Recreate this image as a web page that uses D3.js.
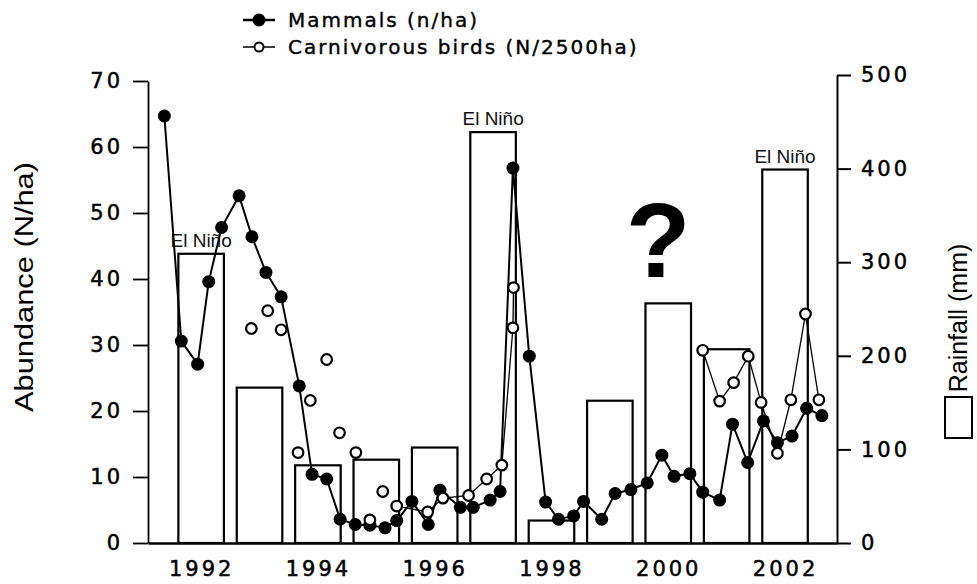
<!DOCTYPE html>
<html>
<head>
<meta charset="utf-8">
<script src="https://cdn.jsdelivr.net/npm/d3@7"></script>
<style>
  body { margin: 0; background: #fff; }
  svg { display: block; }
  .tick text { font-family: "DejaVu Sans", sans-serif; font-size: 21px; letter-spacing: 3px; fill: #000; stroke: #000; stroke-width: 0.5px; }
  .axis path, .axis line { stroke: #000; }
  .legend text { font-family: "DejaVu Sans", sans-serif; font-size: 20px; letter-spacing: 2px; fill: #000; stroke: #000; stroke-width: 0.4px; }
  .nino { font-family: "Liberation Sans", Arial, sans-serif; font-size: 19px; fill: #111; }
  .title { font-family: "Liberation Sans", Arial, sans-serif; fill: #000; }
</style>
</head>
<body>
<div class="container"></div>
<script>
// rainfall (mm) per year, bars
var years = [1992, 1993, 1994, 1995, 1996, 1997, 1998, 1999, 2000, 2001, 2002];
var rainfall = [309, 166, 83, 89, 102, 439, 24, 152, 256, 207, 399];
var elNinoYears = [1992, 1997, 2002];

// mammals (n/ha)
var mammalDates = [1991.37, 1991.66, 1991.94, 1992.13, 1992.35, 1992.65, 1992.87, 1993.11, 1993.37, 1993.68,
  1993.90, 1994.15, 1994.38, 1994.64, 1994.89, 1995.15, 1995.35, 1995.61, 1995.89, 1996.09,
  1996.44, 1996.66, 1996.95, 1997.12, 1997.34, 1997.62, 1997.90, 1998.12, 1998.38, 1998.55,
  1998.86, 1999.09, 1999.36, 1999.64, 1999.89, 2000.10, 2000.37, 2000.59, 2000.88, 2001.10,
  2001.36, 2001.63, 2001.87, 2002.12, 2002.37, 2002.63];
var mammalValues = [64.7, 30.6, 27.1, 39.6, 47.8, 52.6, 46.4, 41.0, 37.3, 23.8,
  10.4, 9.7, 3.6, 2.8, 2.7, 2.3, 3.4, 6.3, 2.8, 8.0,
  5.4, 5.4, 6.5, 7.8, 56.8, 28.3, 6.2, 3.6, 4.1, 6.3,
  3.6, 7.5, 8.1, 9.1, 13.3, 10.1, 10.5, 7.7, 6.5, 18.0,
  12.2, 18.5, 15.2, 16.2, 20.4, 19.3];

// carnivorous birds (N/2500ha)
var birdDates = [1992.86, 1993.14, 1993.37, 1993.66, 1993.87, 1994.15, 1994.37, 1994.65, 1994.89, 1995.11,
  1995.35, 1995.88, 1996.14, 1996.58, 1996.89, 1997.15, 1997.34, 1997.35,
  2000.59, 2000.88, 2001.12, 2001.37, 2001.59, 2001.87, 2002.10, 2002.35, 2002.58];
var birdValues = [32.5, 35.2, 32.3, 13.7, 21.6, 27.8, 16.7, 13.7, 3.5, 7.8,
  5.6, 4.7, 6.8, 7.2, 9.7, 11.8, 32.6, 38.7,
  29.2, 21.5, 24.3, 28.3, 21.3, 13.6, 21.7, 34.7, 21.7];
// joined stretches of the bird series (earlier counts stand alone)
var birdRuns = [[1995.3, 1997.4], [2000.5, 2003]];

var leftTicks = [0, 10, 20, 30, 40, 50, 60, 70];
var rightTicks = [0, 100, 200, 300, 400, 500];
var xTicks = [1992, 1994, 1996, 1998, 2000, 2002];

var W = 977, H = 584;
var svg = d3.select(".container").append("svg").attr("width", W).attr("height", H);

var x = d3.scaleLinear().domain([1991.09, 2002.89]).range([148, 837]);
var yL = d3.scaleLinear().domain([0, 70]).range([543, 81]);
var yR = d3.scaleLinear().domain([0, 500]).range([543, 75]);

// bars
svg.append("g").selectAll("rect")
  .data(years)
  .enter()
  .append("rect")
  .attr("x", (d) => x(d - 0.39))
  .attr("y", (d, i) => yR(rainfall[i]))
  .attr("width", (d) => x(d + 0.39) - x(d - 0.39))
  .attr("height", (d, i) => yR(0) - yR(rainfall[i]))
  .attr("fill", "#fff")
  .attr("stroke", "#000")
  .attr("stroke-width", 2.2);

svg.append("g").selectAll("text")
  .data(elNinoYears)
  .enter()
  .append("text")
  .attr("class", "nino")
  .attr("x", (d) => x(d))
  .attr("y", (d) => yR(rainfall[years.indexOf(d)]) - 7)
  .attr("text-anchor", "middle")
  .text("El Niño");

svg.append("text")
  .attr("class", "title")
  .attr("x", 658)
  .attr("y", 277)
  .attr("text-anchor", "middle")
  .style("font-size", "106px")
  .style("font-weight", "bold")
  .text("?");

// axes
svg.append("g")
  .attr("class", "axis")
  .attr("transform", "translate(148,0)")
  .call(d3.axisLeft(yL).tickValues(leftTicks).tickSize(15).tickSizeOuter(0).tickPadding(10))
  .call((g) => g.selectAll("line, path").attr("stroke-width", 1.8));

svg.append("g")
  .attr("class", "axis")
  .attr("transform", "translate(837,0)")
  .call(d3.axisRight(yR).tickValues(rightTicks).tickSize(14).tickSizeOuter(0).tickPadding(10))
  .call((g) => g.selectAll("line, path").attr("stroke-width", 2));

svg.append("g")
  .attr("class", "axis")
  .attr("transform", "translate(0,543)")
  .call(d3.axisBottom(x).tickValues(xTicks).tickSize(0).tickPadding(18).tickFormat(d3.format("d")))
  .call((g) => g.select("path").attr("stroke-width", 2.6));

// lines
var mammalPts = mammalDates.map((d, i) => [d, mammalValues[i]]);
var birdPts = birdDates.map((d, i) => [d, birdValues[i]]);
var line = d3.line().x((d) => x(d[0])).y((d) => yL(d[1]));

svg.append("g").selectAll("path")
  .data(birdRuns.map((r) => birdPts.filter((d) => d[0] >= r[0] && d[0] < r[1])))
  .enter()
  .append("path")
  .attr("d", line)
  .attr("fill", "none")
  .attr("stroke", "#000")
  .attr("stroke-width", 1.3);

svg.append("path")
  .datum(mammalPts)
  .attr("d", line)
  .attr("fill", "none")
  .attr("stroke", "#000")
  .attr("stroke-width", 2);

svg.append("g").selectAll("circle")
  .data(mammalPts)
  .enter()
  .append("circle")
  .attr("cx", (d) => x(d[0]))
  .attr("cy", (d) => yL(d[1]))
  .attr("r", 6.5)
  .attr("fill", "#000");

svg.append("g").selectAll("circle")
  .data(birdPts)
  .enter()
  .append("circle")
  .attr("cx", (d) => x(d[0]))
  .attr("cy", (d) => yL(d[1]))
  .attr("r", 5.3)
  .attr("fill", "#fff")
  .attr("stroke", "#000")
  .attr("stroke-width", 2.2);

// axis titles
svg.append("text")
  .attr("class", "title")
  .attr("transform", "translate(33,287) rotate(-90)")
  .attr("text-anchor", "middle")
  .attr("textLength", 250)
  .attr("lengthAdjust", "spacingAndGlyphs")
  .style("font-size", "25px")
  .text("Abundance (N/ha)");

svg.append("text")
  .attr("class", "title")
  .attr("transform", "translate(967,318) rotate(-90)")
  .attr("text-anchor", "middle")
  .style("font-size", "25px")
  .text("Rainfall (mm)");

svg.append("rect")
  .attr("x", 945).attr("y", 397)
  .attr("width", 27).attr("height", 41)
  .attr("fill", "#fff").attr("stroke", "#000").attr("stroke-width", 2);

// legend
var legend = svg.append("g").attr("class", "legend");
var legendItems = [
  { label: "Mammals (n/ha)", y: 20, filled: true },
  { label: "Carnivorous birds (N/2500ha)", y: 47, filled: false }
];
legendItems.forEach((it) => {
  legend.append("line")
    .attr("x1", 243).attr("x2", 275)
    .attr("y1", it.y).attr("y2", it.y)
    .attr("stroke", "#000").attr("stroke-width", it.filled ? 2.5 : 1.5);
  legend.append("circle")
    .attr("cx", 259).attr("cy", it.y)
    .attr("r", it.filled ? 5.5 : 4.5)
    .attr("fill", it.filled ? "#000" : "#fff")
    .attr("stroke", "#000").attr("stroke-width", 2);
  legend.append("text")
    .attr("x", 288).attr("y", it.y + 7)
    .text(it.label);
});
</script>
</body>
</html>
